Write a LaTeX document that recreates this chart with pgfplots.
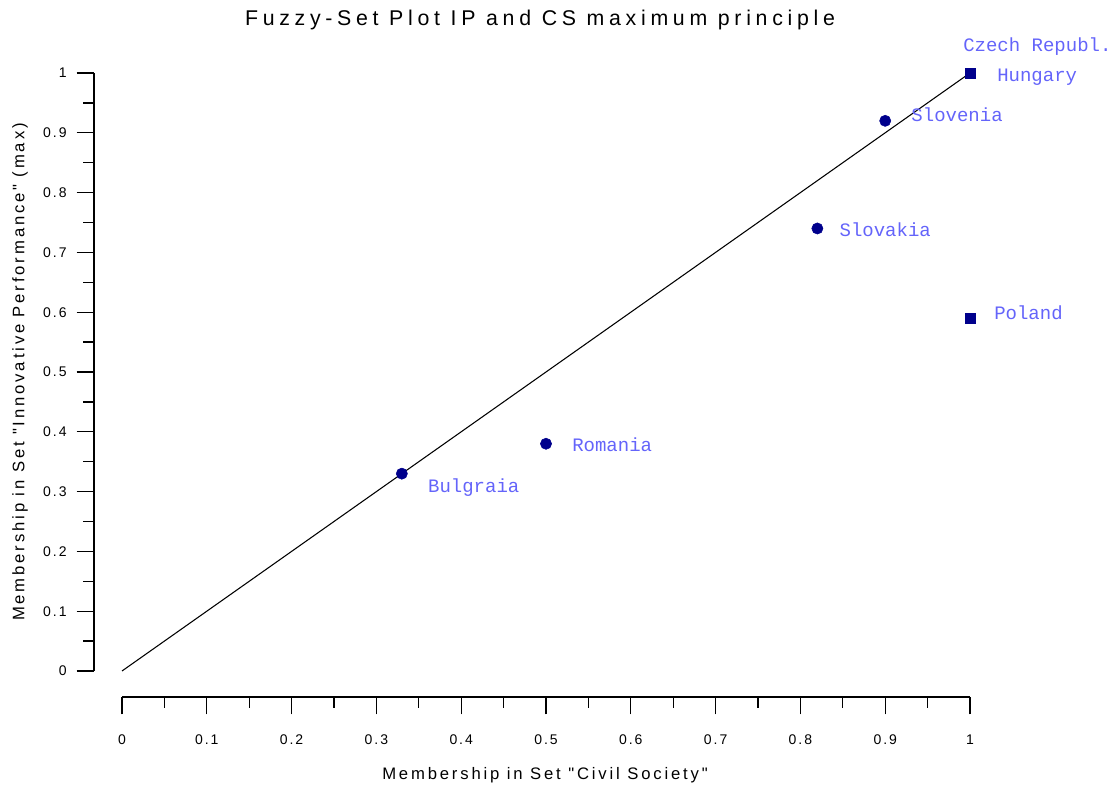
\documentclass[border=0pt]{standalone}
\usepackage{pgfplots}
\pgfplotsset{compat=1.18}
\usepackage{fontspec}
\setmainfont{Liberation Sans}
\newfontfamily\titlefont[LetterSpace=22]{Liberation Sans}
\newfontfamily\labfont[LetterSpace=17]{Liberation Sans}
\newfontfamily\tickfont[LetterSpace=14]{Liberation Sans}
\newfontfamily\lblfont{Liberation Mono}
\definecolor{navy}{RGB}{0,0,140}
\definecolor{lblue}{RGB}{100,100,250}
\begin{document}
\begin{tikzpicture}
\path[use as bounding box] (-91.5pt,-87pt) rectangle (747.75pt,503.25pt);
\begin{axis}[
  at={(0,0)}, anchor=south west,
  scale only axis, width=636pt, height=448.5pt,
  xmin=0,xmax=1,ymin=0,ymax=1,
  axis lines=left,
  axis line style={-, line width=1.2pt},
  axis x line shift=19.5pt,
  axis y line shift=21pt,
  xtick={0,0.1,0.2,0.3,0.4,0.5,0.6,0.7,0.8,0.9,1},
  ytick={0,0.1,0.2,0.3,0.4,0.5,0.6,0.7,0.8,0.9,1},
  minor tick num=1,
  tick align=outside,
  major tick length=13pt, minor tick length=8pt,
  every tick/.style={black, line width=1pt},
  /pgf/number format/assume math mode=true,
  tick label style={font=\tickfont\fontsize{10.5}{12}\selectfont},
  xticklabel style={yshift=-12pt},
  yticklabel style={xshift=-4pt},
  clip=false,
]
\addplot[black, line width=0.8pt] coordinates {(0,0) (1,1)};
\addplot[only marks, mark=*, mark size=4.2pt, color=navy, mark options={fill=navy}] coordinates {(0.9,0.92) (0.82,0.74) (0.5,0.38) (0.33,0.33)};
\addplot[only marks, mark=square*, mark size=3.9pt, color=navy, mark options={fill=navy}] coordinates {(1,1) (1,0.59)};
\begin{scope}[every node/.style={text=lblue, anchor=west, inner sep=0pt, font=\lblfont\fontsize{14.25}{16}\selectfont}]
\node[xshift=-5.25pt, yshift=19.5pt] at (axis cs:1,1) {Czech Republ.};
\node[xshift=20.25pt, yshift=-3pt] at (axis cs:1,1) {Hungary};
\node[xshift=19.5pt, yshift=4.5pt] at (axis cs:0.9,0.92) {Slovenia};
\node[xshift=16.5pt, yshift=-0.75pt] at (axis cs:0.82,0.74) {Slovakia};
\node[xshift=18pt, yshift=3.75pt] at (axis cs:1,0.59) {Poland};
\node[xshift=19.5pt, yshift=-0.75pt] at (axis cs:0.5,0.38) {Romania};
\node[xshift=19.5pt, yshift=-10.5pt] at (axis cs:0.33,0.33) {Bulgraia};
\end{scope}
\end{axis}
\node[font=\titlefont\fontsize{16}{18}\selectfont] at (313.5pt,488.25pt) {Fuzzy-Set Plot IP and CS maximum principle};
\node[font=\labfont\fontsize{12.5}{14}\selectfont] at (317.25pt,-78pt) {Membership in Set "Civil Society"};
\node[font=\labfont\fontsize{12.5}{14}\selectfont, rotate=90] at (-76.5pt,224.25pt) {Membership in Set "Innovative Performance" (max)};
\end{tikzpicture}
\end{document}
